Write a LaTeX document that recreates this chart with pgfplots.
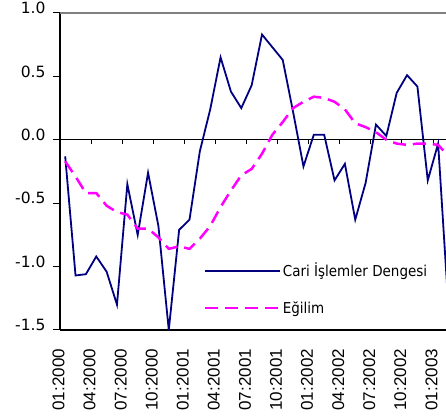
\documentclass[border=0pt]{standalone}
\usepackage{fontspec}
\setmainfont{DejaVu Sans}
\newfontfamily\condfont{DejaVu Sans Condensed}
\newfontfamily\arialfont{Liberation Sans}
\usepackage{pgfplots}
\pgfplotsset{compat=1.18}

\definecolor{cariblue}{RGB}{0,0,128}
\definecolor{trendmag}{RGB}{255,0,255}

\pgfplotstableread{
i cari egilim
0 -0.13 -0.17
1 -1.07 -0.29
2 -1.06 -0.42
3 -0.92 -0.42
4 -1.04 -0.52
5 -1.30 -0.57
6 -0.35 -0.59
7 -0.75 -0.70
8 -0.26 -0.70
9 -0.68 -0.77
10 -1.50 -0.86
11 -0.71 -0.84
12 -0.63 -0.86
13 -0.09 -0.78
14 0.24 -0.68
15 0.65 -0.53
16 0.38 -0.40
17 0.25 -0.28
18 0.43 -0.23
19 0.83 -0.11
20 0.73 0.04
21 0.63 0.14
22 0.22 0.25
23 -0.21 0.30
24 0.04 0.34
25 0.04 0.33
26 -0.32 0.30
27 -0.19 0.24
28 -0.63 0.13
29 -0.34 0.10
30 0.12 0.06
31 0.03 0.00
32 0.37 -0.03
33 0.51 -0.04
34 0.42 -0.03
35 -0.32 -0.03
36 -0.03 -0.04
37 -1.33 -0.13
}\datatable

\begin{document}
\begin{tikzpicture}
\begin{axis}[
  name=ax,
  scale only axis,
  width=386pt, height=317pt,
  xmin=-0.5, xmax=36.76,
  ymin=-1.5, ymax=1.0,
  axis x line*=bottom,
  axis y line*=left,
  axis line style={-, black, line width=1.2pt},
  xtick={-0.5,2.5,...,35.5},
  xticklabels={01:2000,04:2000,07:2000,10:2000,01:2001,04:2001,07:2001,10:2001,01:2002,04:2002,07:2002,10:2002,01:2003},
  x tick style={draw=none},
  xticklabel style={rotate=90, anchor=east, font=\arialfont\fontsize{17}{19}\selectfont, xshift=-8.5pt, yshift=1.5pt},
  ytick={-1.5,-1,...,1},
  yticklabels={\textnormal{-1.5},\textnormal{-1.0},\textnormal{-0.5},\textnormal{0.0},\textnormal{0.5},\textnormal{1.0}},
  tick align=outside,
  y tick style={black, line width=1pt},
  major tick length=7pt,
  yticklabel style={font=\condfont\fontsize{15.5}{17}\selectfont, yshift=5pt, xshift=-4pt},
  legend style={draw=none, fill=none, at={(0.371,0.218)}, anchor=north west,
    font=\condfont\fontsize{15}{17}\selectfont, row sep=19pt, inner sep=0pt,
    nodes={inner sep=2pt}},
  legend cell align=left,
  legend image code/.code={\draw[#1] (0pt,0pt) -- (75pt,0pt);},
]
\draw[gray, line width=1.5pt] (axis cs:-0.5,1.0) -- (axis cs:36.76,1.0);
\draw[black, line width=0.8pt] (axis cs:-0.5,0) -- (axis cs:36.76,0);
\pgfplotsinvokeforeach{-0.5,2.5,5.5,8.5,11.5,14.5,17.5,20.5,23.5,26.5,29.5,32.5,35.5}{
  \draw[black, line width=0.8pt] (axis cs:#1,0) -- ++(0pt,-4pt);
}
\addplot[cariblue, line width=1.8pt] table[x=i, y=cari] {\datatable};
\addlegendentry{Cari İşlemler Dengesi}
\addplot[trendmag, line width=2.5pt, dash pattern=on 13pt off 7pt] table[x=i, y=egilim] {\datatable};
\addlegendentry{Eğilim}
\end{axis}
\pgfresetboundingbox
\path[use as bounding box] ([shift={(-60pt,-86pt)}]ax.south west) rectangle ([shift={(0pt,13pt)}]ax.north east);
\end{tikzpicture}
\end{document}
